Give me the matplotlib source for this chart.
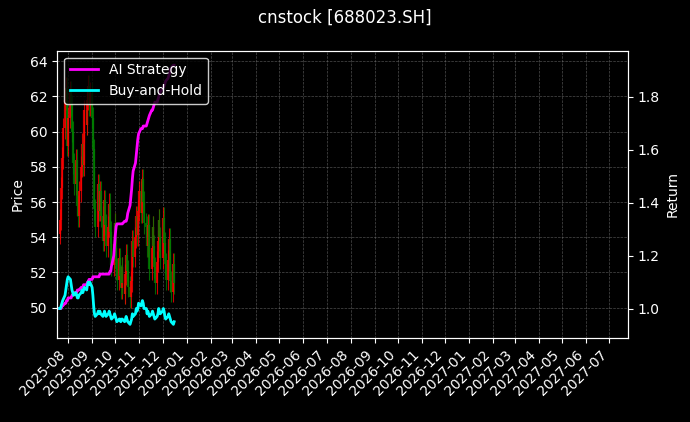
import numpy as np
import pandas as pd
import matplotlib
matplotlib.use("Agg")
import matplotlib.pyplot as plt
import matplotlib.dates as mdates

# daily closes (business days from 2025-07-21)
closes = [54.5, 55.0, 56.8, 58.5, 60.2, 61.8, 62.5, 61.0, 59.2, 60.8,
          62.3, 61.5, 60.0, 58.2, 57.0, 58.4, 57.1, 55.8, 55.2, 56.6,
          58.0, 59.3, 58.1, 60.0, 61.2, 60.4, 61.8, 62.6, 61.5, 62.2,
          60.8, 59.0, 57.2, 55.6, 54.6, 55.8, 57.0, 55.5, 56.6, 55.2,
          53.8, 54.9, 56.1, 54.7, 53.5, 54.6, 55.9, 54.3, 53.1, 52.4,
          53.6, 54.8, 53.4, 52.2, 51.6, 52.8, 51.8, 51.1, 52.3, 51.4,
          50.8, 51.9, 53.0, 52.1, 51.2, 50.6, 51.5, 52.6, 53.8, 52.9,
          54.0, 55.2, 54.1, 55.5, 56.6, 55.4, 56.8, 57.3, 56.0, 54.8,
          54.6, 53.5, 54.7, 53.3, 52.2, 53.4, 54.6, 53.5, 52.3, 51.4,
          52.6, 53.8, 55.0, 54.0, 52.8, 53.9, 55.1, 53.7, 52.5, 51.6,
          52.7, 53.9, 52.6, 51.5, 50.9, 52.5, 51.4]
ai_ret = [1.00, 1.00, 1.00, 1.01, 1.01, 1.02, 1.02, 1.03, 1.03, 1.04,
          1.04, 1.04, 1.05, 1.05, 1.06, 1.06, 1.06, 1.07, 1.07, 1.07,
          1.08, 1.08, 1.08, 1.09, 1.09, 1.09, 1.10, 1.10, 1.11, 1.11,
          1.11, 1.12, 1.12, 1.12, 1.12, 1.12, 1.12, 1.12, 1.13, 1.13,
          1.13, 1.13, 1.13, 1.13, 1.13, 1.13, 1.13, 1.14, 1.14, 1.16,
          1.20, 1.24, 1.28, 1.31, 1.32, 1.32, 1.32, 1.32, 1.32, 1.32,
          1.33, 1.33, 1.33, 1.34, 1.36, 1.39, 1.42, 1.45, 1.49, 1.52,
          1.55, 1.58, 1.61, 1.64, 1.66, 1.68, 1.68, 1.68, 1.69, 1.69,
          1.69, 1.70, 1.71, 1.72, 1.73, 1.75, 1.75, 1.76, 1.77, 1.78,
          1.78, 1.79, 1.80, 1.81, 1.82, 1.83, 1.84, 1.84, 1.85, 1.86,
          1.87, 1.88, 1.89, 1.90, 1.91, 1.92, 1.92]
bh_ret = [1.00, 1.00, 1.01, 1.02, 1.03, 1.05, 1.07, 1.09, 1.11, 1.12,
          1.11, 1.09, 1.07, 1.06, 1.05, 1.06, 1.05, 1.04, 1.04, 1.05,
          1.06, 1.07, 1.06, 1.07, 1.08, 1.07, 1.09, 1.10, 1.09, 1.10,
          1.08, 1.05, 1.01, 0.98, 0.97, 0.98, 0.99, 0.98, 0.99, 0.98,
          0.97, 0.98, 0.99, 0.98, 0.97, 0.98, 0.99, 0.98, 0.97, 0.96,
          0.97, 0.98, 0.97, 0.96, 0.95, 0.96, 0.96, 0.95, 0.96, 0.96,
          0.95, 0.96, 0.97, 0.96, 0.95, 0.94, 0.95, 0.96, 0.98, 0.97,
          0.98, 1.00, 0.99, 1.00, 1.02, 1.01, 1.02, 1.03, 1.02, 1.00,
          1.00, 0.98, 0.99, 0.98, 0.97, 0.98, 0.99, 0.98, 0.97, 0.96,
          0.97, 0.98, 1.00, 0.99, 0.98, 0.99, 1.00, 0.99, 0.97, 0.96,
          0.97, 0.98, 0.97, 0.96, 0.95, 0.94, 0.95]

dates = pd.bdate_range("2025-07-21", periods=len(closes))
c = np.array(closes)
o = np.concatenate([[c[0] - 0.3], c[:-1]])
hi = np.maximum(o, c) + 0.6
lo = np.minimum(o, c) - 0.6

plt.style.use("dark_background")
fig, ax = plt.subplots(figsize=(6.9, 4.22), dpi=100)
fig.patch.set_facecolor("black")
ax.set_facecolor("black")

cols = np.where(c >= o, "red", "green")
x = mdates.date2num(dates)
ax.vlines(x, lo, hi, colors=cols, linewidth=0.8, alpha=0.8)
ax.vlines(x, np.minimum(o, c), np.maximum(o, c), colors=cols, linewidth=1.6, alpha=0.8)
ax.set_ylabel("Price")
ax.set_ylim(48.3, 64.6)
ax.grid(True, color="gray", linestyle="--", linewidth=0.5, alpha=0.6)

ax2 = ax.twinx()
ax2.plot(dates, ai_ret, color="magenta", linewidth=2, label="AI Strategy")
ax2.plot(dates, bh_ret, color="cyan", linewidth=2, label="Buy-and-Hold")
ax2.set_ylabel("Return")
ax2.set_ylim(0.89, 1.975)
ax2.legend(loc="upper left", facecolor="black", edgecolor="white")

ax.set_xlim(pd.Timestamp("2025-07-18"), pd.Timestamp("2027-07-25"))
ax.xaxis.set_major_locator(mdates.MonthLocator())
ax.xaxis.set_major_formatter(mdates.DateFormatter("%Y-%m"))
plt.setp(ax.get_xticklabels(), rotation=45, ha="right")
fig.suptitle("cnstock [688023.SH]", fontsize=12)
fig.subplots_adjust(left=0.083, right=0.91, top=0.88, bottom=0.2)
fig.savefig("out.png", facecolor="black")
